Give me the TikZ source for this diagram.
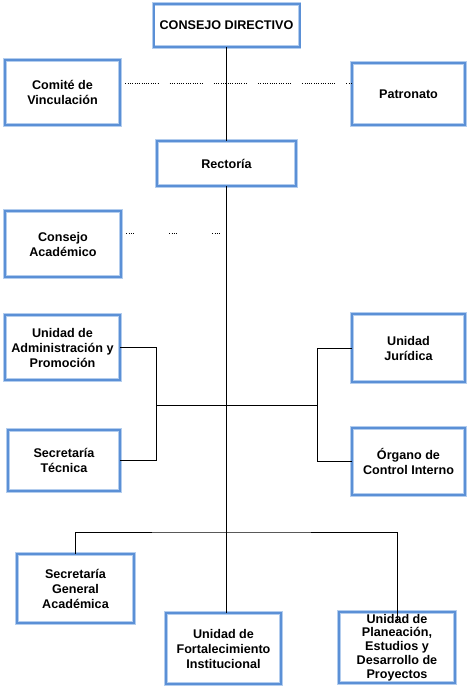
\documentclass[tikz,border=0pt]{standalone}
\usepackage{fontspec}
\setsansfont{Liberation Sans}
\usetikzlibrary{positioning,calc}
\definecolor{frameblue}{HTML}{5B90D6}
\definecolor{framelight}{HTML}{B3CDEE}
\tikzset{
  box/.style={rectangle, draw=framelight, double=frameblue, double distance=2pt, line width=0.9pt,
              fill=white, align=center, inner sep=2pt,
              font=\sffamily\bfseries\fontsize{12.6}{15}\selectfont},
  link/.style={draw=black, line width=0.8pt},
  dotlink/.style={draw=black, line width=0.8pt,
              dash pattern=on 1pt off 1.3pt on 1pt off 1.3pt on 1pt off 1.3pt on 1pt off 1.3pt
                           on 1pt off 1.3pt on 1pt off 1.3pt on 1pt off 1.3pt on 1pt off 1.3pt
                           on 1pt off 1.3pt on 1pt off 1.3pt on 1pt off 1.3pt on 1pt off 1.3pt
                           on 1pt off 1.3pt on 1pt off 1.3pt on 1pt off 11pt},
  shortdot/.style={draw=black, line width=0.8pt,
              dash pattern=on 1pt off 1.3pt on 1pt off 1.3pt on 1pt off 1.3pt on 1pt off 35pt}
}
\begin{document}
\begin{tikzpicture}[x=1pt, y=-1pt]
  \useasboundingbox (0,0) rectangle (471,686);
  % governing bodies
  \node[box, minimum width=146pt, minimum height=43pt] (dir) at (226.5,25.5) {CONSEJO DIRECTIVO};
  \node[box, minimum width=115pt, minimum height=65pt] (vinc) at (62.5,92.5) {Comité de\\Vinculación};
  \node[box, minimum width=113pt, minimum height=62pt] (patr) at (408.5,94) {Patronato};
  \node[box, minimum width=139pt, minimum height=45pt] (rect) at (226.5,163.5) {Rectoría};
  \node[box, minimum width=116pt, minimum height=66pt] (cacad) at (63,244) {Consejo\\Académico};
  % staff units
  \node[box, minimum width=115pt, minimum height=65pt] (admin) at (62.5,347.5) {Unidad de\\Administración y\\Promoción};
  \node[box, minimum width=113pt, minimum height=68pt] (jur) at (408.5,348) {Unidad\\Jurídica};
  \node[box, minimum width=112pt, minimum height=61pt] (tec) at (64,460.5) {Secretaría\\Técnica};
  \node[box, minimum width=113pt, minimum height=67pt] (org) at (408.5,461.5) {Órgano de\\Control Interno};
  % line units
  \node[box, minimum width=117pt, minimum height=69pt] (sga) at (75.5,588.5) {Secretaría\\General\\Académica};
  \node[box, minimum width=115pt, minimum height=71pt] (ufi) at (223.5,648.5) {Unidad de\\Fortalecimiento\\Institucional};
  \node[box, minimum width=116pt, minimum height=71pt, font=\sffamily\bfseries\fontsize{12.6}{13.8}\selectfont] (upl) at (397,647.5) {Unidad de\\Planeación,\\Estudios y\\Desarrollo de\\Proyectos};
  \coordinate (lb) at (156,405);
  \coordinate (rb) at (317,405);
  \coordinate (bus) at (226.5,532);
  \draw[link] (dir) -- (rect);
  \draw[link] (rect) -- (rect |- ufi.north);
  \draw[dotlink] ([xshift=5pt, yshift=9.5pt]vinc.east) -- ([yshift=11pt]patr.west);
  \draw[shortdot] ([xshift=5pt, yshift=11pt]cacad.east) -- ([yshift=11pt]cacad.east -| rect.south);
  \draw[link] (admin) -| (lb);
  \draw[link] (tec) -| (lb);
  \draw[link] (jur) -| (rb);
  \draw[link] (org) -| (rb);
  \draw[link] (lb) -- (rb);
  \draw[link] (sga) |- (bus) -| ([yshift=-9pt]upl.north);
\end{tikzpicture}
\end{document}
